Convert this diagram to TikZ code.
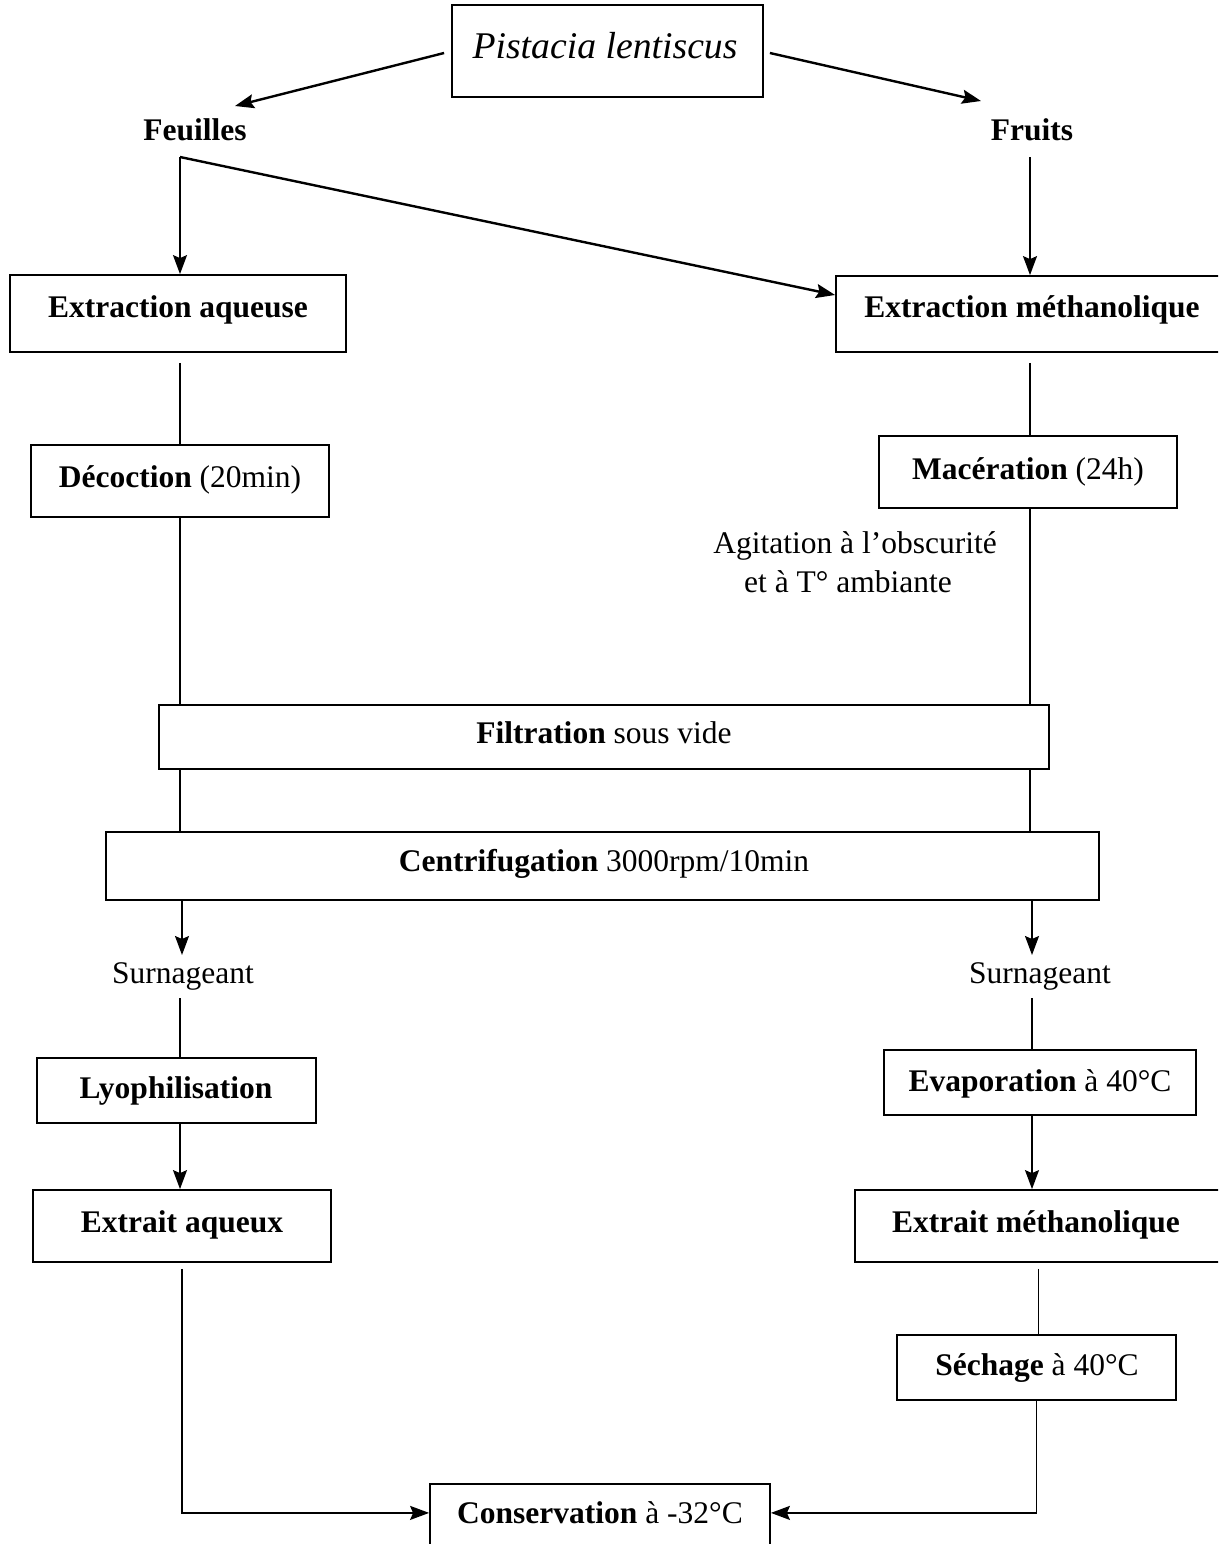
\documentclass[tikz,border=0pt]{standalone}
\usepackage{fontspec}
\setmainfont{Liberation Serif}
\usetikzlibrary{calc,arrows.meta}
\begin{document}
\begin{tikzpicture}[x=1pt,y=-1pt,
  box/.style={draw, line width=1.8pt, inner sep=0pt},
  lbl/.style={inner sep=0pt, anchor=base, font=\fontsize{31.5}{36}\selectfont},
  conn/.style={line width=1.5pt},
  tip/.style={-{Stealth[length=19pt,width=14pt,inset=3pt]}},
  arr/.style={line width=1.6pt, tip},
  darr/.style={line width=2.4pt, tip}]
\useasboundingbox (0,0) rectangle (1218,1544);
\clip (0,0) rectangle (1218,1544);
\fill[white] (0,0) rectangle (1218,1544);

% boxes
\node[box, minimum width=311pt, minimum height=92pt] (pl) at (607.5,51) {};
\node[box, minimum width=336pt, minimum height=77pt] (ea) at (178,313.5) {};
\node[box, minimum width=386pt, minimum height=76pt] (em) at (1029,314) {};
\node[box, minimum width=298pt, minimum height=72pt] (dec) at (180,481) {};
\node[box, minimum width=298pt, minimum height=72pt] (mac) at (1028,472) {};
\node[box, minimum width=890pt, minimum height=64pt] (fil) at (604,737) {};
\node[box, minimum width=993pt, minimum height=68pt] (cen) at (602.5,866) {};
\node[box, minimum width=279pt, minimum height=65pt] (lyo) at (176.5,1090.5) {};
\node[box, minimum width=312pt, minimum height=65pt] (eva) at (1040,1082.5) {};
\node[box, minimum width=298pt, minimum height=72pt] (exa) at (182,1226) {};
\node[box, minimum width=367pt, minimum height=72pt] (exm) at (1038.5,1226) {};
\node[box, minimum width=279pt, minimum height=65pt] (sec) at (1036.5,1367.5) {};
\node[box, minimum width=340pt, minimum height=80pt, anchor=north] (con) at (600,1483) {};

% texts
\node[lbl, font=\fontsize{37.7}{42}\selectfont\itshape] (tpl) at (605,59) {Pistacia lentiscus};
\node[lbl] (feu) at (195,141) {\textbf{Feuilles}};
\node[lbl] (fru) at (1032,141) {\textbf{Fruits}};
\node[lbl] (tea) at (178,317) {\textbf{Extraction aqueuse}};
\node[lbl] (tem) at (1032,317) {\textbf{Extraction méthanolique}};
\node[lbl] (tdec) at (180,487) {\textbf{Décoction} (20min)};
\node[lbl] (tmac) at (1028,479) {\textbf{Macération} (24h)};
\node[lbl] (ag1) at (855,553) {Agitation à l’obscurité};
\node[lbl] (ag2) at (848,592) {et à T° ambiante};
\node[lbl] (tfil) at (604,743) {\textbf{Filtration} sous vide};
\node[lbl] (tcen) at (604,871) {\textbf{Centrifugation} 3000rpm/10min};
\node[lbl] (sl) at (183,983) {Surnageant};
\node[lbl] (sr) at (1040,983) {Surnageant};
\node[lbl] (tlyo) at (176,1098) {\textbf{Lyophilisation}};
\node[lbl] (teva) at (1040,1091) {\textbf{Evaporation} à 40°C};
\node[lbl] (texa) at (182,1232) {\textbf{Extrait aqueux}};
\node[lbl] (texm) at (1036,1232) {\textbf{Extrait méthanolique}};
\node[lbl] (tsec) at (1037,1375) {\textbf{Séchage} à 40°C};
\node[lbl] (tcon) at (600,1523) {\textbf{Conservation} à -32°C};

% lanes and free ends
\coordinate (L) at (180,0);
\coordinate (R) at (1030,0);
\coordinate (L2) at (182,0);
\coordinate (R2) at (1032,0);
\coordinate (feuin) at (235,106);
\coordinate (fruin) at (981,101);
\coordinate (fb) at (180,157);
\coordinate (frb) at (1030,157);
\coordinate (sltop) at (182,955);
\coordinate (srtop) at (1032,955);
\coordinate (slbot) at (180,998);
\coordinate (srbot) at (1032,998);

% connectors
\draw[darr] ([xshift=-7pt,yshift=-2pt]pl.west) -- (feuin);
\draw[darr] ([xshift=6pt,yshift=-2pt]pl.east) -- (fruin);
\draw[arr] (fb) -- (fb |- ea.north);
\draw[darr] (fb) -- ([yshift=19pt]em.west);
\draw[arr] (frb) -- (frb |- em.north);

\draw[conn] ($(L |- ea.south)+(0,10)$) -- (L |- dec.north);
\draw[conn] ($(R |- em.south)+(0,10)$) -- (R |- mac.north);
\draw[conn] (L |- dec.south) -- (L |- fil.north);
\draw[conn] (R |- mac.south) -- (R |- fil.north);
\draw[conn] (L |- fil.south) -- (L |- cen.north);
\draw[conn] (R |- fil.south) -- (R |- cen.north);
\draw[arr] (L2 |- cen.south) -- (sltop);
\draw[arr] (R2 |- cen.south) -- (srtop);
\draw[conn] (slbot) -- (slbot |- lyo.north);
\draw[conn] (srbot) -- (srbot |- eva.north);
\draw[arr] (L |- lyo.south) -- (L |- exa.north);
\draw[arr] (R2 |- eva.south) -- (R2 |- exa.north);
\draw[conn] ($(exm.south)+(0,6)$) -- (exm.south |- sec.north);
\draw[line width=1.9pt, tip] ($(exa.south)+(0,6)$) |- ([yshift=11pt]con.west);
\draw[line width=1.9pt, tip] (sec.south) |- ([yshift=11pt]con.east);
\end{tikzpicture}
\end{document}
